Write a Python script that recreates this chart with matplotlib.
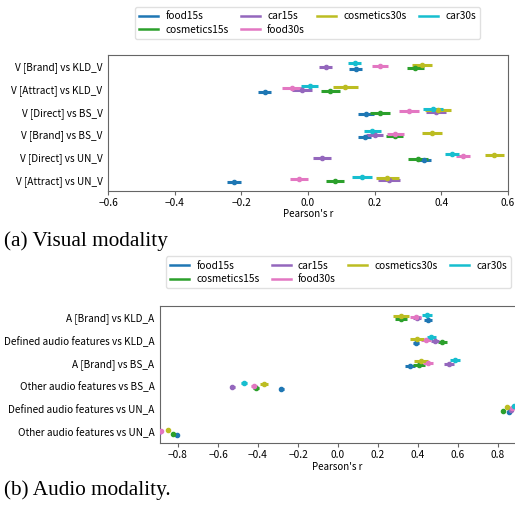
import numpy as np
import matplotlib
matplotlib.use('Agg')
import matplotlib.pyplot as plt
from matplotlib.lines import Line2D

plt.rcParams['font.family'] = ['Noto Sans CJK JP', 'DejaVu Sans']
plt.rcParams['axes.unicode_minus'] = True

series = ['food15s', 'cosmetics15s', 'car15s', 'food30s', 'cosmetics30s', 'car30s']
colors = ['#1f77b4', '#2ca02c', '#9467bd', '#e377c2', '#bcbd22', '#17becf']

# visual modality
visual_rows = ['V [Brand] vs KLD_V', 'V [Attract] vs KLD_V', 'V [Direct] vs BS_V',
               'V [Brand] vs BS_V', 'V [Direct] vs UN_V', 'V [Attract] vs UN_V']
# one list per series, one value per row
visual_r = {
    'food15s':      [0.143, -0.130, 0.174, 0.170, 0.349, -0.222],
    'cosmetics15s': [0.322, 0.067, 0.215, 0.260, 0.330, 0.081],
    'car15s':       [0.053, -0.017, 0.385, 0.200, 0.041, 0.243],
    'food30s':      [0.216, -0.048, 0.302, 0.262, 0.465, -0.027],
    'cosmetics30s': [0.341, 0.112, 0.390, 0.373, 0.559, 0.238],
    'car30s':       [0.140, 0.005, 0.376, 0.193, 0.432, 0.161],
}
visual_err = {
    'food15s':      [0.020, 0.020, 0.025, 0.020, 0.020, 0.020],
    'cosmetics15s': [0.025, 0.028, 0.030, 0.025, 0.030, 0.028],
    'car15s':       [0.020, 0.030, 0.030, 0.025, 0.027, 0.033],
    'food30s':      [0.025, 0.030, 0.030, 0.025, 0.020, 0.028],
    'cosmetics30s': [0.030, 0.037, 0.040, 0.030, 0.028, 0.035],
    'car30s':       [0.020, 0.025, 0.030, 0.025, 0.020, 0.030],
}

# audio modality
audio_rows = ['A [Brand] vs KLD_A', 'Defined audio features vs KLD_A', 'A [Brand] vs BS_A',
              'Other audio features vs BS_A', 'Defined audio features vs UN_A',
              'Other audio features vs UN_A']
audio_r = {
    'food15s':      [0.448, 0.390, 0.359, -0.283, 0.855, -0.807],
    'cosmetics15s': [0.317, 0.521, 0.407, -0.410, 0.826, -0.827],
    'car15s':       [0.394, 0.487, 0.556, -0.529, 0.865, -0.897],
    'food30s':      [0.389, 0.440, 0.450, -0.418, 0.868, -0.884],
    'cosmetics30s': [0.317, 0.393, 0.415, -0.372, 0.846, -0.850],
    'car30s':       [0.443, 0.467, 0.586, -0.470, 0.880, -0.930],
}
audio_err = {
    'food15s':      [0.020, 0.017, 0.025, 0.012, 0.008, 0.008],
    'cosmetics15s': [0.030, 0.022, 0.030, 0.015, 0.008, 0.008],
    'car15s':       [0.020, 0.020, 0.025, 0.012, 0.008, 0.008],
    'food30s':      [0.028, 0.025, 0.025, 0.015, 0.008, 0.008],
    'cosmetics30s': [0.040, 0.035, 0.035, 0.020, 0.008, 0.008],
    'car30s':       [0.025, 0.022, 0.025, 0.015, 0.008, 0.008],
}

offsets = np.linspace(0.125, -0.125, len(series))


def draw(ax, rows, vals, errs, xlim):
    y = np.arange(len(rows))
    for i, s in enumerate(series):
        ax.errorbar(vals[s], y + offsets[i], xerr=errs[s], fmt='o', ms=3,
                    color=colors[i], elinewidth=2.2, capsize=0, zorder=3)
    ax.set_yticks(y)
    ax.set_yticklabels(rows, fontsize=7.2)
    ax.set_ylim(len(rows) - 0.5, -0.5)
    ax.set_xlim(*xlim)
    ax.tick_params(axis='y', length=0, pad=4)
    ax.tick_params(axis='x', labelsize=7.3, length=3, color='0.4', pad=2)
    ax.set_xlabel("Pearson's r", fontsize=7, labelpad=1)
    for sp in ax.spines.values():
        sp.set_color('0.4')


fig = plt.figure(figsize=(5.15, 5.09), dpi=100)
ax1 = fig.add_axes([0.2097, 0.6248, 0.7767, 0.2672])
ax2 = fig.add_axes([0.3107, 0.1291, 0.6893, 0.2697])

draw(ax1, visual_rows, visual_r, visual_err, (-0.6, 0.6))
draw(ax2, audio_rows, audio_r, audio_err, (-0.89, 0.885))
ax2.spines['right'].set_visible(False)

handles = [Line2D([], [], color=c, lw=1.8) for c in colors]
leg_kw = dict(loc='center', ncol=4, fontsize=7.3, frameon=True, edgecolor='0.85',
              handlelength=1.9, handletextpad=0.7, columnspacing=1.2,
              labelspacing=0.35, borderpad=0.4, fancybox=True)
fig.legend(handles, series, bbox_to_anchor=(0.597, 0.955), **leg_kw)
fig.legend(handles, series, bbox_to_anchor=(0.657, 0.465), **leg_kw)

fig.text(0.008, 0.5265, '(a) Visual modality', family='Liberation Serif',
         fontsize=15.3, va='center', ha='left')
fig.text(0.008, 0.037, '(b) Audio modality.', family='Liberation Serif',
         fontsize=15.3, va='center', ha='left')

fig.savefig('out.png', dpi=100)
